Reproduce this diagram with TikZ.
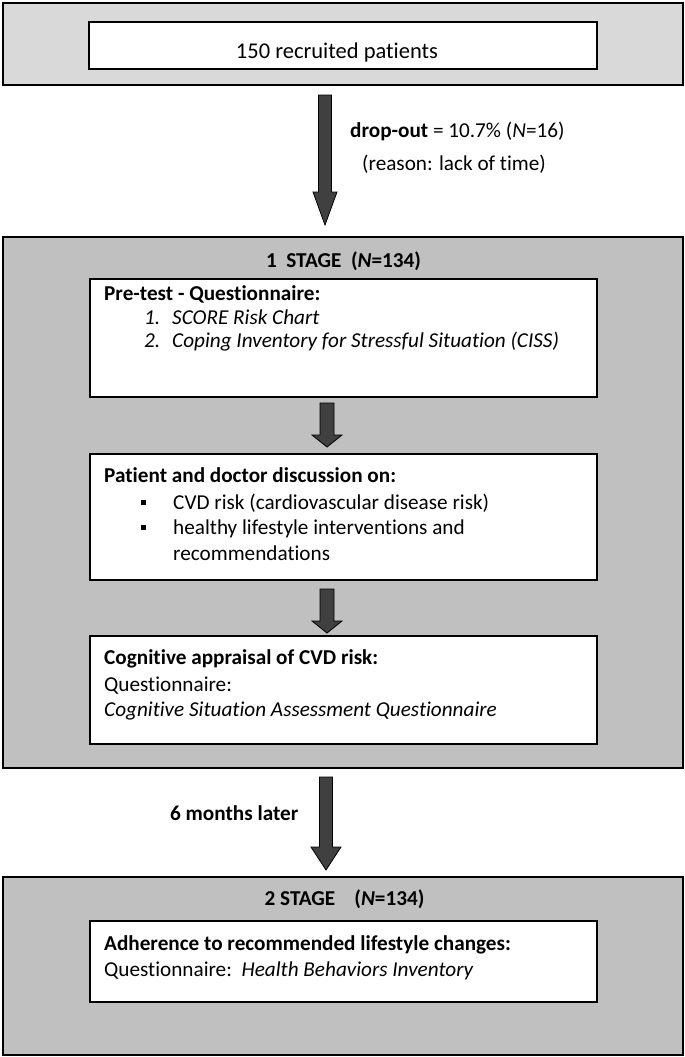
\documentclass[tikz,border=0pt]{standalone}
\usepackage{fontspec}
\setmainfont{Carlito}[Ligatures={NoCommon}]
\usetikzlibrary{calc}
\definecolor{topgray}{HTML}{D9D9D9}
\definecolor{stagegray}{HTML}{C0C0C0}
\definecolor{arrowgray}{HTML}{404040}
\tikzset{
  panel/.style={draw=black, line width=1.2pt, rectangle, inner sep=0pt},
  whitebox/.style={draw=black, line width=1.2pt, fill=white, rectangle, inner sep=0pt},
  txt/.style={anchor=base west, inner sep=0pt, font=\fontsize{21.2}{25}\selectfont},
  ctxt/.style={anchor=base, inner sep=0pt, font=\fontsize{21.2}{25}\selectfont},
  bulletsq/.style={fill=black, rectangle, inner sep=0pt, minimum width=5pt, minimum height=5pt},
  fatarr/.style={draw=black, line width=0.8pt, fill=arrowgray, line join=miter},
}
\newcommand\fatarrow[5]{\path[fatarr] let \p1=(#1), \p2=(#2) in
  (\x1-#3,\y1) -- (\x1+#3,\y1) -- (\x1+#3,\y2+#5) -- (\x1+#4,\y2+#5) -- (\x1,\y2)
  -- (\x1-#4,\y2+#5) -- (\x1-#3,\y2+#5) -- cycle;}
\begin{document}
\begin{tikzpicture}[x=1pt,y=-1pt]
\useasboundingbox (0,0) rectangle (685,1057);
% top
\node[panel, fill=topgray, minimum width=680pt, minimum height=82pt] (outer0) at (343,44) {};
\node[whitebox, minimum width=508pt, minimum height=47pt] (box0) at (343,45.5) {};
\node[ctxt, font=\fontsize{22.5}{26}\selectfont] (t0) at (337,59) {150 recruited patients};
% arrow 1
\coordinate (a1s) at (325,95);
\coordinate (a1e) at (325,225);
\fatarrow{a1s}{a1e}{6.5pt}{12pt}{33pt}
\node[txt] (drop) at (350,137) {\textbf{drop-out} = 10.7\% (\textit{N}=16)};
\node[txt] (reason) at (362,170) {(reason: lack of time)};
% stage 1
\node[panel, fill=stagegray, minimum width=680pt, minimum height=531pt] (outer1) at (343,502.5) {};
\node[ctxt] (h1) at (343.5,267) {\textbf{1\ \ STAGE\ \ (\textit{N}=134)}};
\node[whitebox, minimum width=507pt, minimum height=118pt] (box1) at (343.5,338) {};
\node[txt] (b1t) at (104,300) {\textbf{Pre-test - Questionnaire:}};
\node[txt] (b1n1) at (144,324) {\textit{1.}};
\node[txt] (b1l1) at (172,324) {\textit{SCORE Risk Chart}};
\node[txt] (b1n2) at (144,347) {\textit{2.}};
\node[txt] (b1l2) at (172,347) {\textit{Coping Inventory for Stressful Situation (CISS)}};
\coordinate (a2s) at (327,403);
\coordinate (a2e) at (327,447);
\fatarrow{a2s}{a2e}{7pt}{15pt}{12pt}
\node[whitebox, minimum width=507pt, minimum height=126pt] (box2) at (343.5,517) {};
\node[txt] (b2t) at (104,482) {\textbf{Patient and doctor discussion on:}};
\node[bulletsq] (bu1) at (143,502) {};
\node[txt] (b2l1) at (173,509) {CVD risk (cardiovascular disease risk)};
\node[bulletsq] (bu2) at (143,527) {};
\node[txt] (b2l2) at (173,534) {healthy lifestyle interventions and};
\node[txt] (b2l3) at (173,560) {recommendations};
\coordinate (a3s) at (327,589);
\coordinate (a3e) at (327,633);
\fatarrow{a3s}{a3e}{7pt}{15pt}{12pt}
\node[whitebox, minimum width=507pt, minimum height=108pt] (box3) at (343.5,690) {};
\node[txt] (b3t) at (104,664) {\textbf{Cognitive appraisal of CVD risk:}};
\node[txt] (b3l1) at (104,691) {Questionnaire:};
\node[txt] (b3l2) at (104,716) {\textit{Cognitive Situation Assessment Questionnaire}};
% arrow 4
\coordinate (a4s) at (326,777);
\coordinate (a4e) at (326,870);
\fatarrow{a4s}{a4e}{6.5pt}{15pt}{23pt}
\node[txt] (six) at (170,820) {\textbf{6 months later}};
% stage 2
\node[panel, fill=stagegray, minimum width=680pt, minimum height=178pt] (outer2) at (343,966) {};
\node[ctxt] (h2) at (344.5,905) {\textbf{2 STAGE\ \ \ \ (\textit{N}=134)}};
\node[whitebox, minimum width=507pt, minimum height=81pt] (box4) at (343.5,961.5) {};
\node[txt] (b4t) at (104,950) {\textbf{Adherence to recommended lifestyle changes:}};
\node[txt] (b4l1) at (104,976) {Questionnaire:\ \ \textit{Health Behaviors Inventory}};
\end{tikzpicture}
\end{document}
